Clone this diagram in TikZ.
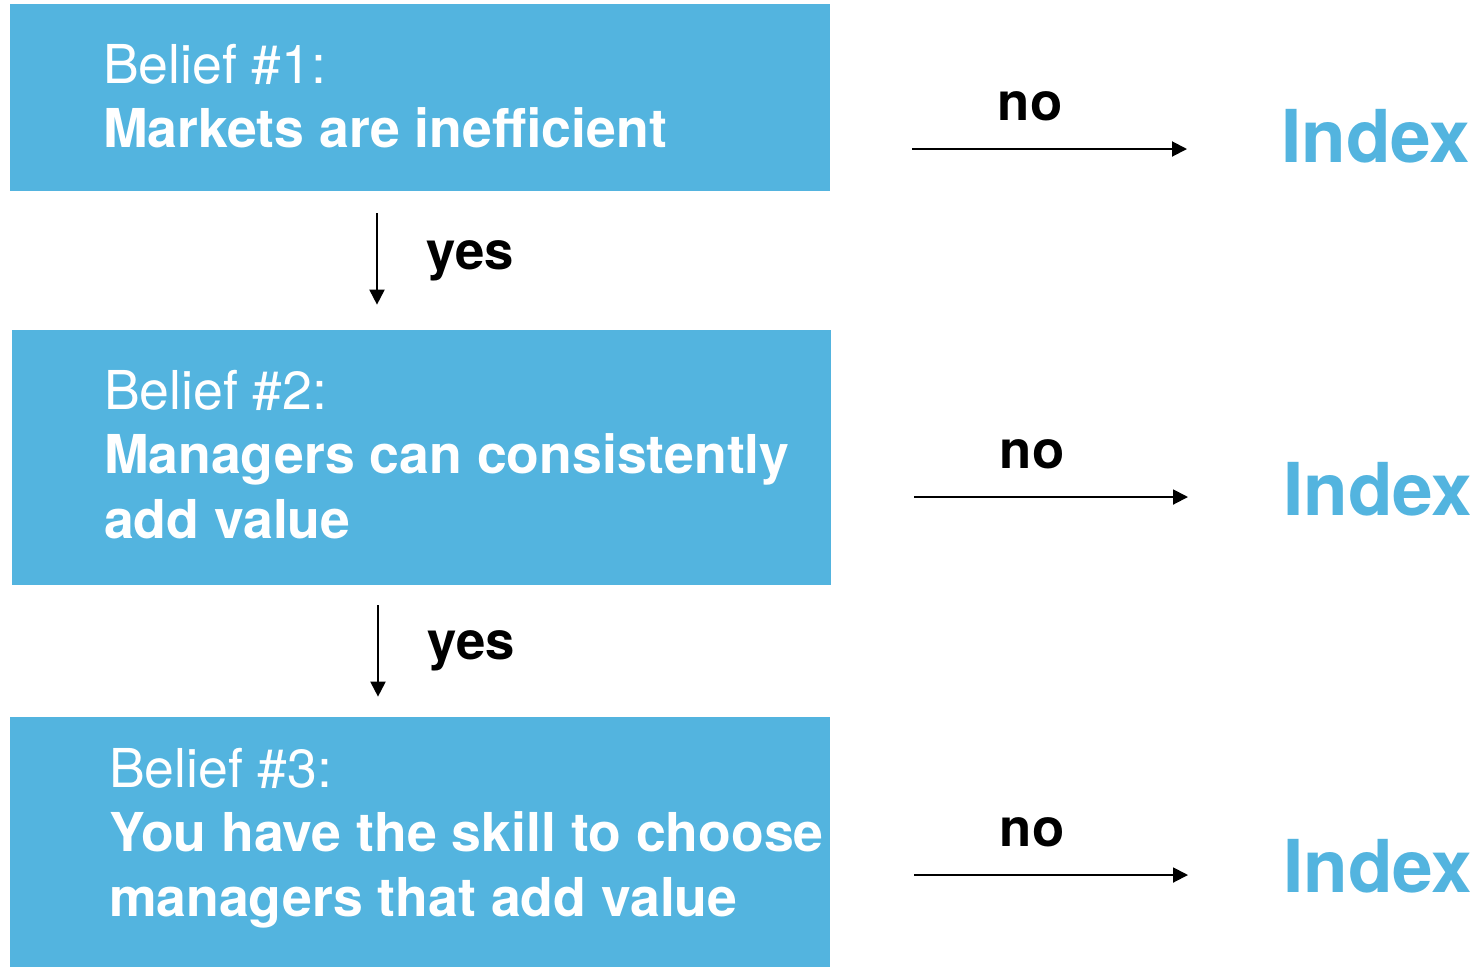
\documentclass[tikz,border=0pt]{standalone}
\usepackage{fontspec}
\setmainfont{TeX Gyre Heros}
\usetikzlibrary{arrows.meta,positioning}
\definecolor{beliefblue}{RGB}{83,180,223}

\begin{document}
\begin{tikzpicture}[
  beliefbox/.style={fill=beliefblue, inner sep=0, minimum width=16.4cm},
  belieftext/.style={text=white, align=left, inner sep=0, anchor=north west, font=\fontsize{30.5}{36.5}\selectfont},
  flow/.style={line width=1.1pt, -{Triangle[length=0.3cm,width=0.3cm]}},
  answer/.style={font=\bfseries\fontsize{30}{36}\selectfont, inner sep=0},
  index/.style={text=beliefblue, font=\bfseries\fontsize{41.5}{50}\selectfont, inner sep=0, anchor=west}
]
\useasboundingbox (0,0) rectangle (29.5,-19.36);

%belief 1
\node[beliefbox, minimum height=3.74cm] (b1) at (8.4,-1.95) {};
\node[belieftext] (t1) at ([shift={(1.86cm,-0.8cm)}]b1.north west) {Belief \#1:\\\textbf{Markets are inefficient}};
%belief 2
\node[beliefbox, minimum width=16.38cm, minimum height=5.1cm] (b2) at (8.43,-9.15) {};
\node[belieftext] (t2) at ([shift={(1.84cm,-0.81cm)}]b2.north west) {Belief \#2:\\\textbf{Managers can consistently}\\\textbf{add value}};
%belief 3
\node[beliefbox, minimum height=5cm] (b3) at (8.4,-16.84) {};
\node[belieftext] (t3) at ([shift={(1.98cm,-0.63cm)}]b3.north west) {Belief \#3:\\\textbf{You have the skill to choose}\\\textbf{managers that add value}};

%index
\node[index] (i1) at (25.62,-2.73) {Index};
\node[index] (i2) at (25.66,-9.79) {Index};
\node[index] (i3) at (25.66,-17.33) {Index};

%yes arrows
\draw[flow, shorten <=0.44cm, shorten >=0.5cm] ([xshift=-0.86cm]b1.south) -- ([xshift=-0.86cm]b1.south |- b2.north) node[answer, midway, right=0.98cm] {yes};
\draw[flow, shorten <=0.4cm, shorten >=0.4cm] ([xshift=-0.87cm]b2.south) -- ([xshift=-0.87cm]b2.south |- b3.north) node[answer, midway, right=0.98cm] {yes};

%no arrows
\coordinate (s1) at (18.24,-2.98);
\coordinate (s2) at (18.28,-9.94);
\coordinate (s3) at (18.28,-17.5);
\draw[flow, shorten >=1.88cm] (s1) -- (s1 -| i1.west) node[answer, pos=0.32, above=0.55cm] {no};
\draw[flow, shorten >=1.9cm] (s2) -- (s2 -| i2.west) node[answer, pos=0.32, above=0.55cm] {no};
\draw[flow, shorten >=1.9cm] (s3) -- (s3 -| i3.west) node[answer, pos=0.32, above=0.55cm] {no};

\end{tikzpicture}
\end{document}
